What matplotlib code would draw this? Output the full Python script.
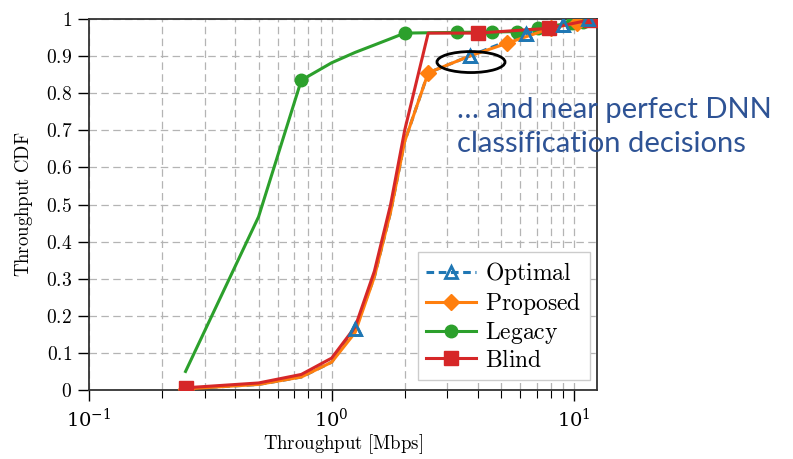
import matplotlib.pyplot as plt
import numpy as np
from matplotlib.patches import Ellipse
from matplotlib.ticker import FixedLocator, FuncFormatter, LogLocator

plt.rcParams['mathtext.fontset'] = 'cm'
plt.rcParams['font.family'] = 'serif'
plt.rcParams['font.serif'] = ['DejaVu Serif']

# throughput [Mbps] and CDF values per scheme
opt_x = [0.25, 0.5, 0.75, 1.0, 1.25, 1.5, 1.75, 2.0, 2.5, 3.7, 6.3, 9.0, 11.4]
opt_y = [0.003, 0.015, 0.035, 0.075, 0.165, 0.305, 0.48, 0.67, 0.855, 0.9, 0.96, 0.985, 1.0]
opt_marks = [4, 9, 10, 11, 12]

prop_x = [0.25, 0.5, 0.75, 1.0, 1.25, 1.5, 1.75, 2.0, 2.5, 3.7, 5.3, 8.0, 10.3, 12.0]
prop_y = [0.003, 0.015, 0.035, 0.075, 0.155, 0.305, 0.48, 0.67, 0.855, 0.9, 0.935, 0.975, 0.99, 1.0]
prop_marks = [0, 8, 10, 11, 12, 13]

leg_x = [0.25, 0.5, 0.75, 1.0, 1.25, 1.5, 1.75, 2.0, 3.3, 4.6, 5.8, 7.1, 9.8, 10.9, 11.9]
leg_y = [0.05, 0.467, 0.835, 0.882, 0.91, 0.93, 0.947, 0.962, 0.964, 0.965, 0.966, 0.975, 0.99, 0.993, 0.997]
leg_marks = [2, 7, 8, 9, 10, 11, 12, 13, 14]

blind_x = [0.25, 0.5, 0.75, 1.0, 1.25, 1.5, 1.75, 2.0, 2.5, 4.0, 7.9, 11.7]
blind_y = [0.006, 0.019, 0.042, 0.086, 0.17, 0.32, 0.5, 0.7, 0.962, 0.962, 0.975, 0.998]
blind_marks = [0, 9, 10, 11]

yticks = np.round(np.arange(0, 1.01, 0.1), 1)

fig = plt.figure(figsize=(7.93, 4.59), dpi=100)
ax = fig.add_axes([0.1122, 0.1503, 0.6406, 0.8083])

# optimal line sits underneath, its triangles are redrawn on top
opt_line, = ax.plot(opt_x, opt_y, color='#1f77b4', lw=2.2, ls=(0, (2.5, 1.5)),
                    marker='^', markevery=opt_marks, ms=9, mew=2,
                    mfc='none', zorder=2, label=r'$\mathrm{Optimal}$')
ax.plot(opt_x, opt_y, ls='none', marker='^', markevery=opt_marks, ms=9, mew=2,
        mec='#1f77b4', mfc='none', zorder=6)
ax.plot(leg_x, leg_y, color='#2ca02c', lw=2.2, marker='o', markevery=leg_marks,
        ms=9, zorder=3, label=r'$\mathrm{Legacy}$')
ax.plot(prop_x, prop_y, color='#ff7f0e', lw=2.2, marker='D', markevery=prop_marks,
        ms=8, zorder=4, label=r'$\mathrm{Proposed}$')
ax.plot(blind_x, blind_y, color='#d62728', lw=2.2, marker='s', markevery=blind_marks,
        ms=10, zorder=5, label=r'$\mathrm{Blind}$')

ax.set_xscale('log')
ax.set_xlim(0.1, 12.4)
ax.set_ylim(0, 1)
ax.xaxis.set_major_locator(LogLocator(base=10, numticks=5))
ax.xaxis.set_minor_locator(LogLocator(base=10, subs=np.arange(2, 10), numticks=20))
ax.yaxis.set_major_locator(FixedLocator(yticks))
ax.yaxis.set_major_formatter(FuncFormatter(lambda v, p: r'$\mathrm{%g}$' % round(v, 1)))

ax.grid(True, which='both', color='#b4b4b4', lw=0.9, ls=(0, (6, 3.5)))
ax.set_axisbelow(True)
ax.tick_params(which='major', direction='out', length=8, width=1, labelsize=14)
ax.tick_params(axis='y', pad=4)
ax.tick_params(axis='x', which='major', pad=5)
ax.tick_params(which='minor', direction='out', length=5.5, width=0.8)
for s in ax.spines.values():
    s.set_color('#333333')
    s.set_linewidth(1.3)

ax.set_xlabel(r'$\mathrm{Throughput\ [Mbps]}$', fontsize=13.5, labelpad=1)
ax.set_ylabel(r'$\mathrm{Throughput\ CDF}$', fontsize=13.5, labelpad=8)

h, l = ax.get_legend_handles_labels()
order = [0, 2, 1, 3]
ax.legend([h[i] for i in order], [l[i] for i in order], loc='lower right',
          fontsize=17, handlelength=2.1, handletextpad=0.4, labelspacing=0.12,
          borderpad=0.35, borderaxespad=0, fancybox=False, edgecolor='#cccccc',
          framealpha=1, bbox_to_anchor=(0.986, 0.027))

ax.add_patch(Ellipse((0.752, 0.884), 0.134, 0.0566, transform=ax.transAxes,
                     fill=False, ec='black', lw=2, zorder=7, clip_on=False))

fig.text(457 / 793, 1 - 118 / 459, '… and near perfect DNN', family='Lato',
         fontsize=21, color='#2E5395', va='baseline')
fig.text(457 / 793, 1 - 152 / 459, 'classification decisions', family='Lato',
         fontsize=21, color='#2E5395', va='baseline')

fig.savefig('out.png', dpi=100)
